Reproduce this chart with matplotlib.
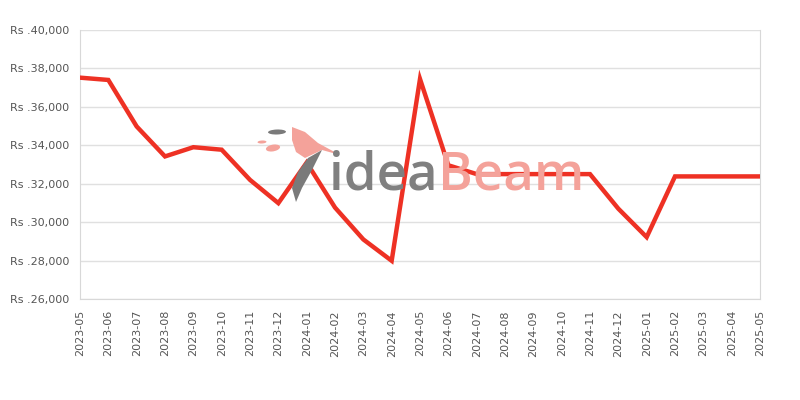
import matplotlib
matplotlib.use("Agg")
import matplotlib.pyplot as plt
from matplotlib.ticker import FuncFormatter
from matplotlib.patches import Ellipse, Polygon

months = ["2023-05", "2023-06", "2023-07", "2023-08", "2023-09", "2023-10",
          "2023-11", "2023-12", "2024-01", "2024-02", "2024-03", "2024-04",
          "2024-05", "2024-06", "2024-07", "2024-08", "2024-09", "2024-10",
          "2024-11", "2024-12", "2025-01", "2025-02", "2025-03", "2025-04",
          "2025-05"]
prices = [37520, 37400, 34980, 33420, 33900, 33770,
          32200, 30990, 33100, 30760, 29100, 27990,
          37450, 32960, 32500, 32500, 32500, 32500,
          32500, 30700, 29220, 32380, 32380, 32380,
          32380]
y_ticks = [26000, 28000, 30000, 32000, 34000, 36000, 38000, 40000]

fig = plt.figure(figsize=(8, 4), dpi=100)
ax = fig.add_axes([0.1, 0.2525, 0.85, 0.6725])

x = list(range(len(months)))
ax.plot(x, prices, color="#EE3124", linewidth=3.2, solid_joinstyle="miter", zorder=3)

ax.set_xlim(0, len(months) - 1)
ax.set_ylim(26000, 40000)
ax.set_yticks(y_ticks)
ax.yaxis.set_major_formatter(FuncFormatter(lambda v, p: "Rs .{:,.0f}".format(v)))
ax.set_xticks(x)
ax.set_xticklabels(months, rotation=90)
ax.tick_params(axis="both", length=0, labelsize=8, labelcolor="#555555")
ax.tick_params(axis="x", pad=8)
ax.tick_params(axis="y", pad=8)
ax.grid(axis="y", color="#e0e0e0", linewidth=1)
ax.set_axisbelow(True)
for s in ["left", "right", "bottom"]:
    ax.spines[s].set_color("#d8d8d8")
ax.spines["top"].set_visible(False)

# watermark text
fig.text(0.5475, 0.525, "idea", fontsize=38, color="#808080",
         family="Open Sans", fontweight="semibold", ha="right", va="baseline", zorder=1)
fig.text(0.5475, 0.525, "Beam", fontsize=38, color="#f4a29a",
         family="Open Sans", fontweight="semibold", ha="left", va="baseline", zorder=1)

# simple watermark bird (figure pixel coordinates -> fractions)
def P(px, py):
    return (px / 800.0, (400 - py) / 400.0)

tf = fig.transFigure
wing = Polygon([P(292, 127), P(305, 132), P(318, 143), P(340, 155), P(322, 150),
                P(305, 158), P(296, 152), P(292, 140)], closed=True,
               facecolor="#f4a29a", edgecolor="none", transform=tf, zorder=1)
body = Polygon([P(322, 150), P(308, 158), P(298, 172), P(292, 188), P(296, 202),
                P(302, 188), P(312, 170)], closed=True,
               facecolor="#7a7a7a", edgecolor="none", transform=tf, zorder=1)
fig.patches.extend([wing, body])
for (cx, cy, w, h, ang, col) in [(277, 132, 18, 5, 5, "#7a7a7a"),
                                 (273, 148, 16, 6, 45, "#f4a29a"),
                                 (262, 142, 9, 3, 10, "#f4a29a")]:
    c = P(cx, cy)
    fig.patches.append(Ellipse(c, w / 800.0, h / 400.0, angle=ang,
                               facecolor=col, edgecolor="none", transform=tf, zorder=1))

fig.savefig("out.png", dpi=100)
